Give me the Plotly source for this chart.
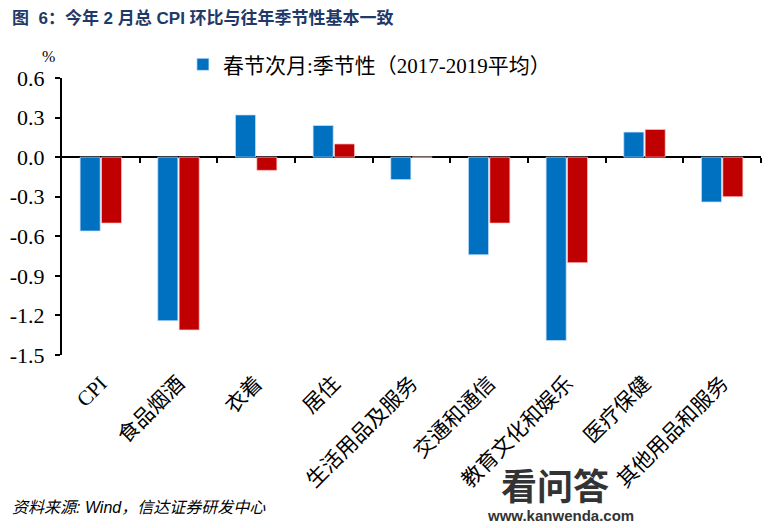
import plotly.graph_objects as go

categories = ["CPI", "食品烟酒", "衣着", "居住", "生活用品及服务",
              "交通和通信", "教育文化和娱乐", "医疗保健", "其他用品和服务"]
spring_next_month = [-0.56, -1.24, 0.32, 0.24, -0.17, -0.74, -1.39, 0.19, -0.34]
seasonal_avg_2017_2019 = [-0.50, -1.31, -0.10, 0.10, 0.0, -0.50, -0.80, 0.21, -0.30]
y_ticks = [0.6, 0.3, 0.0, -0.3, -0.6, -0.9, -1.2, -1.5]

legend_text = "春节次月:季节性（2017-2019平均）"
title_text = "图  6：今年 2 月总 CPI 环比与往年季节性基本一致"
source_text = "资料来源: Wind，信达证券研发中心"

SERIF = "Liberation Serif, Noto Sans CJK SC, serif"
SANS = "Liberation Sans, Noto Sans CJK SC, sans-serif"

fig = go.Figure()
fig.add_trace(go.Bar(x=categories, y=spring_next_month, name=legend_text,
                     marker=dict(color="#0070C0", line=dict(width=0.8, color="rgba(200,225,255,0.9)"))))
fig.add_trace(go.Bar(x=categories, y=seasonal_avg_2017_2019, name="季节性（2017-2019平均）",
                     showlegend=False,
                     marker=dict(color="#C00000", line=dict(width=0.8, color="rgba(255,200,200,0.9)"))))
# helper trace to host the tick-mark axis along zero
fig.add_trace(go.Scatter(x=[], y=[], xaxis="x2", showlegend=False, hoverinfo="skip"))

ymin, ymax = min(y_ticks), max(y_ticks)
n = len(categories)

# page body has an 8px margin; the figure is sized so the plot lands where the reference has it
fig.update_layout(
    width=765, height=520,
    margin=dict(l=54, r=12, t=70, b=173, autoexpand=False),
    paper_bgcolor="white", plot_bgcolor="white",
    barmode="group", bargap=0.45, bargroupgap=0.06,
    showlegend=True,
    legend=dict(orientation="h", x=0.173, xanchor="left", y=1.122, yanchor="top",
                font=dict(family=SERIF, size=21, color="black"),
                bgcolor="rgba(0,0,0,0)"),
    xaxis=dict(type="category", showline=False, ticks="", showgrid=False, zeroline=False,
               automargin=False,
               tickangle=-45, tickfont=dict(family=SERIF, size=21, color="black"),
               ticklabelstandoff=11),
    xaxis2=dict(overlaying="x", anchor="free", position=(0 - ymin) / (ymax - ymin),
                range=[-0.5, n - 0.5], showline=False, showgrid=False, zeroline=False,
                automargin=False,
                showticklabels=False, ticks="outside", ticklen=5, tickwidth=2, tickcolor="black",
                tickmode="array", tickvals=[i + 0.5 for i in range(n)]),
    yaxis=dict(range=[ymin, ymax], tickmode="array", tickvals=y_ticks,
               ticktext=[f"{v:.1f}" for v in y_ticks],
               automargin=False,
               showline=True, linecolor="black", linewidth=2,
               ticks="outside", ticklen=5, tickwidth=2, tickcolor="black",
               showgrid=False, zeroline=True, zerolinecolor="black", zerolinewidth=2,
               ticklabelstandoff=6,
               tickfont=dict(family=SERIF, size=22, color="black")),
    annotations=[
        dict(text=f"<b>{title_text}</b>", xref="paper", yref="paper", x=-0.0745, y=1.215,
             xanchor="left", yanchor="middle", showarrow=False,
             font=dict(family=SANS, size=17, color="#1F3A68")),
        dict(text="%", xref="paper", yref="paper", x=-0.02, y=1.078,
             xanchor="center", yanchor="middle", showarrow=False,
             font=dict(family=SERIF, size=16, color="black")),
        dict(text=f"<i>{source_text}</i>", xref="paper", yref="paper", x=-0.0745, y=-0.549,
             xanchor="left", yanchor="middle", showarrow=False,
             font=dict(family=SANS, size=16, color="black")),
        dict(text="<b>看问答</b>", xref="paper", yref="paper", x=(555 - 62) / 699, y=(355 - 487) / 277,
             xanchor="center", yanchor="middle", showarrow=False,
             font=dict(family=SANS, size=36, color="#333333")),
        dict(text="<b>www.kanwenda.com</b>", xref="paper", yref="paper", x=(560 - 62) / 699, y=(355 - 515) / 277,
             xanchor="center", yanchor="middle", showarrow=False,
             font=dict(family=SANS, size=15, color="#333333")),
    ],
)

fig.write_html("out.html")
